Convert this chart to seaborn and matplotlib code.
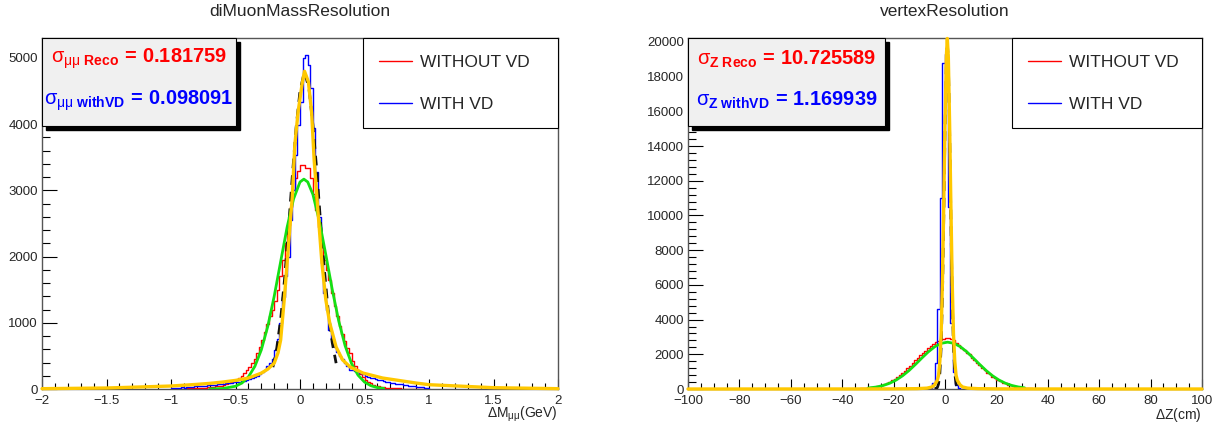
import numpy as np
import pandas as pd
import matplotlib
matplotlib.use("Agg")
import matplotlib.pyplot as plt
import seaborn as sns
from matplotlib.lines import Line2D
from matplotlib.patches import Rectangle
from matplotlib.ticker import MultipleLocator, FuncFormatter
from matplotlib.transforms import ScaledTranslation

# ---------------- data: diMuonMassResolution (bins of 0.02 GeV from -1 to 1) ----------------
mass_bin_lo = -1.0
mass_bin_width = 0.02
mass_without_vd = [
    3, 4, 4, 5, 6, 7, 8, 10, 11, 13,
    15, 17, 19, 22, 25, 29, 33, 38, 45, 52,
    62, 72, 85, 100, 118, 140, 165, 200, 240, 280,
    330, 390, 460, 540, 630, 740, 860, 980, 1100, 1200,
    1330, 1500, 1700, 1950, 2200, 2480, 2750, 3000, 3190, 3300,
    3380, 3380, 3340, 3340, 3190, 2950, 2700, 2450, 2200, 1950,
    1800, 1650, 1450, 1250, 1100, 950, 830, 720, 620, 540,
    430, 350, 290, 230, 180, 140, 110, 85, 65, 50,
    40, 32, 26, 22, 18, 15, 12, 10, 8, 7,
    6, 5, 5, 4, 3, 3, 2, 2, 2, 1,
]
mass_with_vd = [
    15, 10, 20, 15, 25, 20, 30, 25, 35, 40,
    40, 45, 50, 45, 55, 60, 60, 65, 70, 75,
    80, 85, 90, 95, 100, 105, 110, 120, 125, 135,
    145, 160, 180, 200, 230, 260, 290, 340, 390, 450,
    590, 750, 1000, 1390, 1700, 2000, 2550, 3000, 3530, 3990,
    4330, 5000, 5050, 4900, 4550, 3940, 3280, 2600, 1900, 1450,
    1190, 890, 750, 634, 560, 500, 450, 400, 340, 290,
    280, 270, 260, 240, 220, 200, 185, 170, 160, 150,
    140, 130, 120, 110, 100, 95, 85, 80, 75, 70,
    60, 55, 50, 45, 40, 35, 30, 25, 20, 15,
]
# fit curves
mass_green_x = [-0.7, -0.6, -0.5, -0.45, -0.4, -0.35, -0.3, -0.25, -0.2, -0.15, -0.1, -0.05, 0.0,
                0.03, 0.06, 0.1, 0.15, 0.2, 0.25, 0.3, 0.35, 0.4, 0.45, 0.5, 0.55, 0.6, 0.65]
mass_green_y = [1, 7, 42, 90, 183, 342, 590, 945, 1400, 1923, 2443, 2871, 3127,
                3170, 3127, 2940, 2538, 2030, 1502, 1029, 652, 383, 209, 105, 49, 21, 8]
mass_yellow_x = [-2, -1.5, -1.0, -0.8, -0.7, -0.6, -0.5, -0.4, -0.3, -0.25, -0.2, -0.17, -0.15, -0.12,
                 -0.09, -0.06, -0.04, -0.015, 0.015, 0.035, 0.065, 0.09, 0.11, 0.14, 0.17, 0.2, 0.23,
                 0.28, 0.33, 0.39, 0.49, 0.64, 0.9, 1.0, 1.5, 2]
mass_yellow_y = [5, 15, 45, 70, 85, 105, 130, 165, 240, 300, 390, 550, 740, 1400,
                 2150, 2900, 3690, 4180, 4590, 4800, 4640, 4180, 3450, 2670, 1900, 1350, 1000,
                 634, 440, 330, 240, 166, 90, 65, 20, 5]
mass_black_x = [-0.21, -0.18, -0.15, -0.12, -0.09, -0.06, -0.03, 0.0, 0.035, 0.07, 0.1, 0.13,
                0.16, 0.19, 0.22, 0.25, 0.28]
mass_black_y = [330, 620, 1050, 1650, 2400, 3200, 3950, 4500, 4800, 4530, 3990, 3300,
                2500, 1780, 1150, 700, 390]

# ---------------- data: vertexResolution (bins of 1 cm) ----------------
vtx_red_lo = -40.0
vtx_bin_width = 1.0
vtx_without_vd = [
    3, 5, 8, 11, 15, 21, 28, 37, 48, 62,
    80, 100, 128, 160, 200, 245, 300, 360, 430, 515,
    600, 700, 810, 930, 1060, 1200, 1350, 1490, 1650, 1790,
    1940, 2080, 2200, 2350, 2450, 2600, 2700, 2790, 2870, 2900,
    2930, 2960, 2880, 2820, 2650, 2520, 2360, 2270, 2090, 1990,
    1800, 1690, 1500, 1390, 1210, 1100, 940, 850, 710, 630,
    520, 460, 365, 320, 250, 215, 165, 140, 105, 88,
    65, 54, 38, 31, 22, 18, 12, 9, 6, 4,
]
vtx_blue_lo = -10.0
vtx_with_vd = [0, 5, 10, 25, 60, 350, 1500, 4600, 11000, 18800,
               19300, 10500, 3800, 1000, 220, 50, 15, 5, 2, 0]
vtx_green_x = [-30, -26.5, -24, -21.5, -19, -16.5, -14, -11.5, -9, -6.5, -4, -1.5, 1,
               3.5, 6, 8.5, 11, 13.5, 16, 18.5, 21, 23.5, 26, 28.5, 31]
vtx_green_y = [52, 119, 204, 333, 517, 762, 1065, 1416, 1786, 2140, 2435, 2631, 2700,
               2631, 2435, 2140, 1786, 1416, 1065, 762, 517, 333, 204, 119, 66]
vtx_yellow_x = [-100, -40, -20, -11, -7, -5, -4, -3, -2.5, -2, -1.5, -1, -0.5, 0, 0.5, 0.9,
                1.3, 1.8, 2.3, 2.8, 3.3, 3.8, 4.3, 4.8, 5.8, 6.8, 8.8, 12.8, 20, 40, 100]
vtx_yellow_y = [0, 2, 8, 20, 50, 120, 250, 500, 800, 1600, 3200, 6200, 10500, 15250, 19100, 20200,
                19100, 15250, 10500, 6200, 3200, 1600, 800, 500, 250, 120, 50, 20, 8, 2, 0]
vtx_black_x = [-4, -3, -2.5, -2, -1.5, -1, -0.5, 0, 0.5, 0.9, 1.3, 1.8, 2.3, 2.8, 3.3, 3.8, 4.3, 4.8, 5.8]
vtx_black_y = [3, 77, 294, 928, 2440, 5350, 9774, 14880, 18870, 20000, 18870, 14880, 9774, 5350,
               2440, 928, 294, 77, 3]

titles = ["diMuonMassResolution", "vertexResolution"]
legend_labels = ["WITHOUT VD", "WITH VD"]
xlabels = [r"$\mathrm{\Delta M_{\mu\mu}(GeV)}$", r"$\mathrm{\Delta Z(cm)}$"]
sigma_reco_text = [r"$\mathrm{\sigma}_{\mathrm{\mu\mu}\ \mathbf{Reco}}\,\mathbf{=}\,\mathbf{0.181759}$",
                   r"$\mathrm{\sigma}_{\mathbf{Z\ Reco}}\,\mathbf{=}\,\mathbf{10.725589}$"]
sigma_vd_text = [r"$\mathrm{\sigma}_{\mathrm{\mu\mu}\ \mathbf{withVD}}\,\mathbf{=}\,\mathbf{0.098091}$",
                 r"$\mathrm{\sigma}_{\mathbf{Z\ withVD}}\,\mathbf{=}\,\mathbf{1.169939}$"]

# ---------------- style ----------------
sns.set_style("ticks")
plt.rcParams["font.family"] = ["Liberation Sans", "DejaVu Sans"]
plt.rcParams["mathtext.fontset"] = "custom"
plt.rcParams["mathtext.rm"] = "Liberation Sans"
plt.rcParams["mathtext.it"] = "Liberation Sans:italic"
plt.rcParams["mathtext.bf"] = "Liberation Sans:bold"
plt.rcParams["axes.unicode_minus"] = True

RED = "#ff0000"
BLUE = "#0000ff"
GREEN = "#14e014"
YELLOW = "#ffc800"

W, H = 1229, 425
fig = plt.figure(figsize=(W / 100, H / 100), dpi=100)
axL = fig.add_axes([42 / W, 36 / H, 516 / W, 351 / H])
axR = fig.add_axes([688 / W, 36 / H, 514 / W, 351 / H])


def draw_hist(ax, lo, width, counts, color):
    counts = [float(c) for c in counts]
    n = len(counts)
    centers = [lo + width * (k + 0.5) for k in range(n)]
    df = pd.DataFrame({"x": centers, "w": counts})
    sns.histplot(data=df, x="x", weights="w", binwidth=width, binrange=(lo, lo + n * width),
                 element="step", fill=False, color=color, linewidth=1.0, ax=ax, zorder=3)


def draw_curve(ax, xs, ys, color, lw, z, dashed=False, clip=True):
    df = pd.DataFrame({"x": xs, "y": ys})
    sns.lineplot(data=df, x="x", y="y", color=color, linewidth=lw, ax=ax, estimator=None,
                 sort=False)
    ln = ax.lines[-1]
    ln.set_zorder(z)
    if dashed:
        ln.set_linestyle((0, (3.5, 2.5)))
    ln.set_clip_on(clip)


def fmt(v, pos):
    s = "%g" % v
    return s.replace("-", "\u2212")


panels = [
    dict(ax=axL, xlim=(-2, 2), ylim=(0, 5302), xmaj=0.5, xmin=0.1, ymaj=1000, ymin=200,
         hists=[(mass_bin_lo, mass_bin_width, mass_without_vd, RED),
                (mass_bin_lo, mass_bin_width, mass_with_vd, BLUE)],
         green=(mass_green_x, mass_green_y), yellow=(mass_yellow_x, mass_yellow_y),
         black=(mass_black_x, mass_black_y), box_w=194 / 516, leg_x=(363 - 42) / 516),
    dict(ax=axR, xlim=(-100, 100), ylim=(0, 20230), xmaj=20, xmin=5, ymaj=2000, ymin=400,
         hists=[(vtx_red_lo, vtx_bin_width, vtx_without_vd, RED),
                (vtx_blue_lo, vtx_bin_width, vtx_with_vd, BLUE)],
         green=(vtx_green_x, vtx_green_y), yellow=(vtx_yellow_x, vtx_yellow_y),
         black=(vtx_black_x, vtx_black_y), box_w=197 / 514, leg_x=(1012 - 688) / 514),
]

for i, p in enumerate(panels):
    ax = p["ax"]
    for lo, wd, cnt, col in p["hists"]:
        draw_hist(ax, lo, wd, cnt, col)
    draw_curve(ax, *p["black"], "#111111", 2.0, 4.5, dashed=True)
    draw_curve(ax, *p["green"], GREEN, 2.0, 5)
    draw_curve(ax, *p["yellow"], YELLOW, 2.4, 6, clip=False)

    ax.set_xlim(*p["xlim"])
    ax.set_ylim(*p["ylim"])
    ax.set_xlabel("")
    ax.set_ylabel("")
    ax.xaxis.set_major_locator(MultipleLocator(p["xmaj"]))
    ax.xaxis.set_minor_locator(MultipleLocator(p["xmin"]))
    ax.yaxis.set_major_locator(MultipleLocator(p["ymaj"]))
    ax.yaxis.set_minor_locator(MultipleLocator(p["ymin"]))
    ax.xaxis.set_major_formatter(FuncFormatter(fmt))
    ax.yaxis.set_major_formatter(FuncFormatter(fmt))
    ax.tick_params(axis="both", which="both", direction="in", top=False, right=False,
                   color="black", width=0.8, labelsize=9.5)
    ax.tick_params(axis="x", which="major", length=7.5, pad=4)
    ax.tick_params(axis="x", which="minor", length=4)
    ax.tick_params(axis="y", which="major", length=11, pad=3)
    ax.tick_params(axis="y", which="minor", length=5.8)
    for s in ax.spines.values():
        s.set_color("#555555")
        s.set_linewidth(1.0)

    ax.text(1.0, -0.073, xlabels[i], transform=ax.transAxes, ha="right", va="center",
            fontsize=10)

    pos = ax.get_position()
    fig.text(pos.x0 + pos.width / 2, 1 - 12 / H, titles[i], ha="center", va="center",
             fontsize=12.5)

    bw = p["box_w"]
    bh = 88 / 351
    dx, dy = 4 / (pos.width * W), 4 / 351
    ax.add_patch(Rectangle((dx, 1 - bh - dy), bw, bh, transform=ax.transAxes,
                           facecolor="black", edgecolor="black", zorder=20, clip_on=False))
    ax.add_patch(Rectangle((0, 1 - bh), bw, bh, transform=ax.transAxes,
                           facecolor="#f0f0f0", edgecolor="black", linewidth=0.8,
                           zorder=21, clip_on=False))
    ax.text(bw / 2, 0.940, sigma_reco_text[i], transform=ax.transAxes, ha="center",
            va="center", fontsize=14.4, color=RED, zorder=22)
    ax.text(bw / 2, 0.822, sigma_vd_text[i], transform=ax.transAxes, ha="center",
            va="center", fontsize=14.4, color=BLUE, zorder=22)

    handles = [Line2D([0], [0], color=RED, lw=1.0), Line2D([0], [0], color=BLUE, lw=1.0)]
    lx = p["leg_x"]
    leg = ax.legend(handles, legend_labels, loc="upper left",
                    bbox_to_anchor=(lx, 1.0, 1.0 - lx, 0), mode="expand",
                    frameon=True, fancybox=False, edgecolor="black", framealpha=1,
                    fontsize=12.5, handlelength=1.9, handletextpad=0.46, borderpad=0.95,
                    labelspacing=1.55, borderaxespad=0)
    leg.get_frame().set_linewidth(0.8)
    leg.set_zorder(30)

# lift the "0" label of each y axis slightly so it clears the first x label
fig.canvas.draw()
for ax in (axL, axR):
    t0 = ax.yaxis.get_major_ticks()[0]
    t0.label1.set_transform(t0.label1.get_transform() +
                            ScaledTranslation(0, 3 / 72, fig.dpi_scale_trans))

fig.savefig("out.png", dpi=100, facecolor="white")
